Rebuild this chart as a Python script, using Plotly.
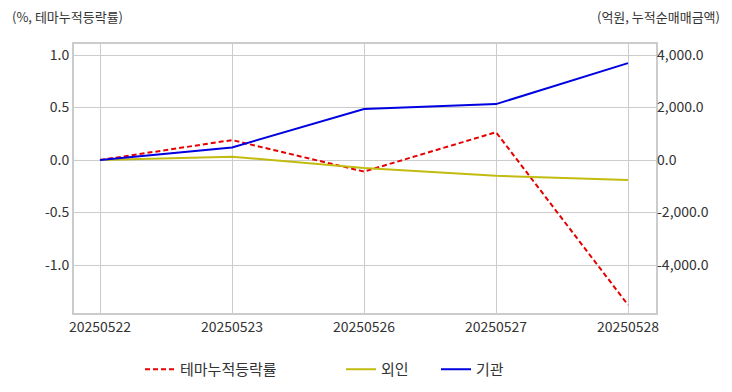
import plotly.graph_objects as go

dates = ["20250522", "20250523", "20250526", "20250527", "20250528"]
theme_rate = [0.0, 0.19, -0.11, 0.265, -1.38]
foreign_amt = [0.0, 125.0, -300.0, -600.0, -760.0]
inst_amt = [0.0, 480.0, 1940.0, 2130.0, 3690.0]

left_ticks = [1.0, 0.5, 0.0, -0.5, -1.0]
right_ticks = [4000, 2000, 0, -2000, -4000]

FONT = "Noto Sans CJK KR"
GRID = "#cccccc"
TXT = "#333333"
xs = list(range(len(dates)))

fig = go.Figure()
fig.add_trace(go.Scatter(x=xs, y=theme_rate, name="테마누적등락률", mode="lines",
                         line=dict(color="#e60000", width=2, dash="5px,3px"),
                         yaxis="y", legend="legend"))
fig.add_trace(go.Scatter(x=xs, y=foreign_amt, name="외인", mode="lines",
                         line=dict(color="#c2bb10", width=2),
                         yaxis="y2", legend="legend2"))
fig.add_trace(go.Scatter(x=xs, y=inst_amt, name="기관", mode="lines",
                         line=dict(color="#0000e0", width=2),
                         yaxis="y2", legend="legend3"))

leg = dict(orientation="h", xanchor="left", y=-0.21, yanchor="middle",
           font=dict(size=15, color=TXT), bgcolor="rgba(0,0,0,0)")

# page body has an 8px default margin, so the figure is offset by (8, 8)
fig.update_layout(
    width=724, height=384,
    margin=dict(l=66, r=76, t=36, b=79, autoexpand=False),
    paper_bgcolor="white", plot_bgcolor="white",
    font=dict(family=FONT, size=13, color=TXT),
    showlegend=True,
    legend=dict(leg, x=0.1134),
    legend2=dict(leg, x=0.4588),
    legend3=dict(leg, x=0.622),
    xaxis=dict(tickmode="array", tickvals=xs, ticktext=dates,
               range=[-0.197, 4.212], showgrid=True, gridcolor=GRID, gridwidth=1,
               showline=True, linecolor=GRID, linewidth=2, mirror=True,
               zeroline=False, ticks="", automargin=False,
               tickfont=dict(size=14, color=TXT)),
    yaxis=dict(range=[-1.457, 1.105], tickmode="array", tickvals=left_ticks,
               ticktext=[f"{v:.1f}" for v in left_ticks],
               showgrid=True, gridcolor=GRID, gridwidth=1, zeroline=False,
               showline=True, linecolor=GRID, linewidth=2, mirror=True,
               ticks="", automargin=False, tickfont=dict(size=14, color=TXT)),
    yaxis2=dict(range=[-5828, 4420], overlaying="y", side="right", tickmode="array",
                tickvals=right_ticks, ticktext=[f"{v:,.1f}" for v in right_ticks],
                showgrid=True, gridcolor=GRID, gridwidth=1, zeroline=False,
                ticks="", automargin=False, tickfont=dict(size=14, color=TXT)),
    annotations=[
        dict(text="(%, 테마누적등락률)", xref="paper", yref="paper", x=-0.110, y=1.0,
             xanchor="left", yanchor="middle", yshift=28, showarrow=False,
             font=dict(size=13, color=TXT)),
        dict(text="(억원, 누적순매매금액)", xref="paper", yref="paper", x=1.113, y=1.0,
             xanchor="right", yanchor="middle", yshift=28, showarrow=False,
             font=dict(size=13, color=TXT)),
    ],
)

fig.write_html("out.html")
